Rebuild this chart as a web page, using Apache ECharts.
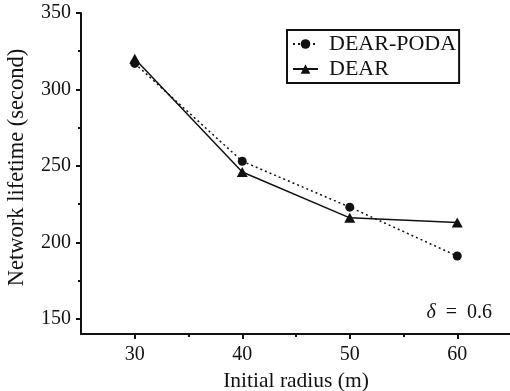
<!DOCTYPE html>
<html>
<head>
<meta charset="utf-8">
<script src="https://cdn.jsdelivr.net/npm/echarts@6/dist/echarts.min.js"></script>
<style>
    html, body { margin: 0; padding: 0; background: #fff; }
    #chart { width: 510px; height: 391px; }
</style>
</head>
<body>
<div id="chart"></div>
<script>
    // 数据
    var radius = [30, 40, 50, 60]
    var dearPoda = [317, 253, 223, 191]
    var dear = [320, 246, 216, 213]
    var xMajor = [30, 40, 50, 60]
    var xMinor = [35, 45, 55]
    var yMajor = [150, 200, 250, 300, 350]
    var yMinor = [175, 225, 275, 325]

    var serif = '"Liberation Serif", "DejaVu Serif", serif'
    var ink = '#111'

    var chart = echarts.init(document.getElementById('chart'), null, { renderer: 'canvas' })

    function pairs(xs, ys) {
        return xs.map(function(x, i) { return [x, ys[i]] })
    }

    var baseX = {
        type: 'value',
        min: 25,
        max: 65,
        position: 'bottom',
        splitLine: { show: false },
        axisLine: { show: true, lineStyle: { color: ink, width: 2 } }
    }
    var baseY = {
        type: 'value',
        min: 140,
        max: 350,
        position: 'left',
        splitLine: { show: false },
        axisLine: { show: true, lineStyle: { color: ink, width: 2 } }
    }

    var option = {
        animation: false,
        backgroundColor: '#fff',
        grid: { left: 81, right: -1, top: 13, bottom: 57, containLabel: false, outerBoundsMode: 'none' },
        legend: {
            orient: 'vertical',
            left: 287,
            top: 30,
            padding: [3, 3, 3, 5],
            itemGap: 3,
            itemWidth: 25,
            itemHeight: 12,
            borderColor: ink,
            borderWidth: 2,
            borderRadius: 0,
            textStyle: { fontFamily: serif, fontSize: 22, color: ink, lineHeight: 22, padding: [0, 0, 0, 6] },
            data: ['DEAR-PODA', 'DEAR']
        },
        xAxis: [
            Object.assign({}, baseX, {
                name: 'Initial radius (m)',
                nameLocation: 'middle',
                nameGap: 31,
                nameTextStyle: { fontFamily: serif, fontSize: 21.5, color: ink, lineHeight: 22 },
                axisTick: { show: true, inside: false, length: 5, customValues: xMajor, lineStyle: { color: ink, width: 2 } },
                axisLabel: { show: true, margin: 11, customValues: xMajor, fontFamily: serif, fontSize: 20, color: ink, lineHeight: 20 }
            }),
            Object.assign({}, baseX, {
                axisLine: { show: false },
                axisTick: { show: true, inside: false, length: 3, customValues: xMinor, lineStyle: { color: ink, width: 2 } },
                axisLabel: { show: false }
            })
        ],
        yAxis: [
            Object.assign({}, baseY, {
                name: 'Network lifetime (second)',
                nameLocation: 'middle',
                nameGap: 53,
                nameTextStyle: { fontFamily: serif, fontSize: 22.5, color: ink, lineHeight: 22, padding: [0, 0, 0, 12] },
                axisTick: { show: true, inside: false, length: 5, customValues: yMajor, lineStyle: { color: ink, width: 2 } },
                axisLabel: { show: true, margin: 10, customValues: yMajor, fontFamily: serif, fontSize: 20, color: ink }
            }),
            Object.assign({}, baseY, {
                axisLine: { show: false },
                axisTick: { show: true, inside: false, length: 3, customValues: yMinor, lineStyle: { color: ink, width: 2 } },
                axisLabel: { show: false }
            })
        ],
        graphic: [{
            type: 'text',
            right: 18,
            top: 303,
            style: {
                text: '{i|δ}  =  0.6',
                fontFamily: serif,
                fontSize: 20,
                fill: ink,
                rich: { i: { fontFamily: serif, fontStyle: 'italic', fontSize: 20, fill: ink } }
            }
        }],
        series: [{
            name: 'DEAR-PODA',
            type: 'line',
            xAxisIndex: 0,
            yAxisIndex: 0,
            symbol: 'circle',
            symbolSize: 9,
            showAllSymbol: true,
            itemStyle: { color: ink },
            lineStyle: { color: ink, width: 1.5, type: [2, 3] },
            data: pairs(radius, dearPoda)
        }, {
            name: 'DEAR',
            type: 'line',
            xAxisIndex: 0,
            yAxisIndex: 0,
            symbol: 'triangle',
            symbolSize: [11, 10],
            showAllSymbol: true,
            itemStyle: { color: ink },
            lineStyle: { color: ink, width: 1.5, type: 'solid' },
            data: pairs(radius, dear)
        }]
    }

    chart.setOption(option)
</script>
</body>
</html>
